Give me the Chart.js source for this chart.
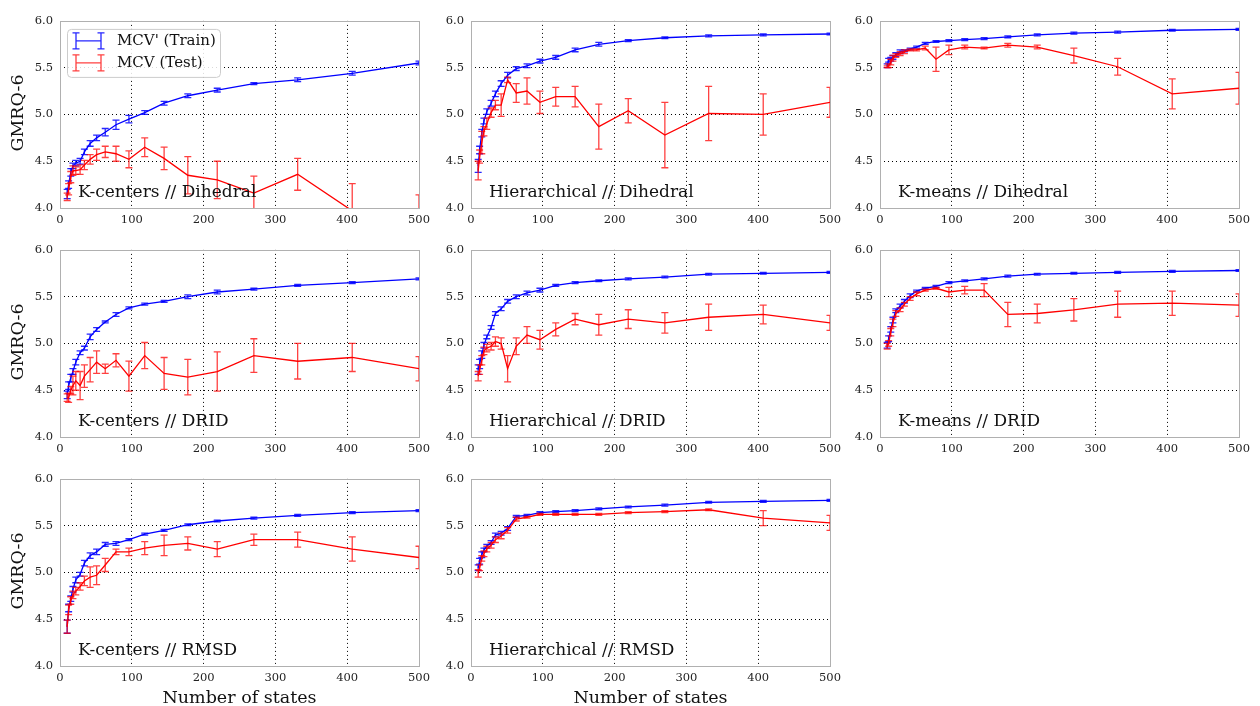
<!DOCTYPE html>
<html>
<head>
<meta charset="utf-8">
<script src="https://cdn.jsdelivr.net/npm/chart.js@4.4.0/dist/chart.umd.min.js"></script>
<style>
  body{margin:0;background:#fff;width:1260px;height:706px;position:relative;overflow:hidden;font-family:"DejaVu Serif",serif;color:#111}
  .panel{position:absolute}
  .ylab{position:absolute;font-size:17.5px;white-space:nowrap;transform:translate(-50%,-50%) rotate(-90deg)}
  .xlab{position:absolute;font-size:17.5px;white-space:nowrap;transform:translate(-50%,-50%)}
</style>
</head>
<body>
<script>
// number of states on the x axis (same for every panel)
const nStates = [10, 12, 15, 18, 22, 28, 34, 42, 51, 63, 78, 96, 118, 145, 178, 219, 270, 331, 407, 500]

const panelTitles = [
  'K-centers // Dihedral', 'Hierarchical // Dihedral', 'K-means // Dihedral',
  'K-centers // DRID', 'Hierarchical // DRID', 'K-means // DRID',
  'K-centers // RMSD', 'Hierarchical // RMSD'
]
const xTicks = [0, 100, 200, 300, 400, 500]
const yTicks = [4.0, 4.5, 5.0, 5.5, 6.0]

// K-centers // Dihedral
const kcDihTrain    = [4.15, 4.25, 4.38, 4.45, 4.48, 4.50, 4.60, 4.69, 4.75, 4.81, 4.89, 4.95, 5.02, 5.12, 5.20, 5.26, 5.33, 5.37, 5.44, 5.55]
const kcDihTrainErr = [0.05, 0.04, 0.04, 0.03, 0.03, 0.03, 0.03, 0.03, 0.03, 0.04, 0.05, 0.04, 0.02, 0.02, 0.02, 0.02, 0.01, 0.02, 0.02, 0.02]
const kcDihTest     = [4.12, 4.20, 4.33, 4.40, 4.40, 4.41, 4.46, 4.52, 4.57, 4.60, 4.58, 4.52, 4.65, 4.53, 4.35, 4.30, 4.16, 4.36, 3.97, 3.86]
const kcDihTestErr  = [0.04, 0.06, 0.06, 0.05, 0.04, 0.05, 0.05, 0.05, 0.06, 0.06, 0.08, 0.09, 0.10, 0.12, 0.20, 0.20, 0.18, 0.17, 0.29, 0.28]

// Hierarchical // Dihedral
const hiDihTrain    = [4.45, 4.62, 4.80, 4.93, 5.03, 5.12, 5.22, 5.33, 5.42, 5.49, 5.52, 5.57, 5.61, 5.69, 5.75, 5.79, 5.82, 5.84, 5.85, 5.86]
const hiDihTrainErr = [0.07, 0.04, 0.04, 0.03, 0.03, 0.03, 0.03, 0.03, 0.03, 0.02, 0.02, 0.02, 0.02, 0.02, 0.02, 0.01, 0.01, 0.01, 0.01, 0.01]
const hiDihTest     = [4.40, 4.55, 4.70, 4.82, 4.90, 5.02, 5.10, 5.10, 5.37, 5.23, 5.25, 5.13, 5.19, 5.19, 4.87, 5.04, 4.78, 5.01, 5.00, 5.13]
const hiDihTestErr  = [0.10, 0.07, 0.12, 0.05, 0.06, 0.05, 0.05, 0.12, 0.03, 0.10, 0.14, 0.12, 0.10, 0.11, 0.24, 0.13, 0.35, 0.29, 0.22, 0.16]

// K-means // Dihedral
const kmDihTrain    = [5.52, 5.58, 5.59, 5.61, 5.64, 5.67, 5.68, 5.70, 5.72, 5.76, 5.78, 5.79, 5.80, 5.81, 5.83, 5.85, 5.87, 5.88, 5.90, 5.91]
const kmDihTrainErr = [0.02, 0.02, 0.02, 0.02, 0.02, 0.02, 0.01, 0.01, 0.01, 0.01, 0.01, 0.01, 0.01, 0.01, 0.01, 0.01, 0.01, 0.01, 0.01, 0.01]
const kmDihTest     = [5.51, 5.52, 5.56, 5.60, 5.63, 5.65, 5.67, 5.69, 5.69, 5.71, 5.59, 5.69, 5.72, 5.71, 5.74, 5.72, 5.63, 5.51, 5.22, 5.28]
const kmDihTestErr  = [0.01, 0.02, 0.03, 0.03, 0.02, 0.02, 0.02, 0.01, 0.01, 0.02, 0.13, 0.05, 0.02, 0.01, 0.02, 0.02, 0.08, 0.09, 0.16, 0.17]

// K-centers // DRID
const kcDridTrain    = [4.45, 4.55, 4.63, 4.70, 4.80, 4.90, 4.95, 5.07, 5.15, 5.23, 5.31, 5.38, 5.42, 5.45, 5.50, 5.55, 5.58, 5.62, 5.65, 5.69]
const kcDridTrainErr = [0.04, 0.04, 0.04, 0.03, 0.03, 0.02, 0.02, 0.03, 0.02, 0.01, 0.02, 0.01, 0.01, 0.01, 0.02, 0.02, 0.01, 0.01, 0.01, 0.01]
const kcDridTest     = [4.42, 4.42, 4.50, 4.55, 4.60, 4.55, 4.65, 4.72, 4.80, 4.73, 4.82, 4.65, 4.87, 4.68, 4.64, 4.70, 4.87, 4.81, 4.85, 4.73]
const kcDridTestErr  = [0.04, 0.05, 0.04, 0.10, 0.10, 0.15, 0.12, 0.13, 0.12, 0.05, 0.07, 0.16, 0.14, 0.17, 0.19, 0.21, 0.18, 0.19, 0.15, 0.13]

// Hierarchical // DRID
const hiDridTrain    = [4.72, 4.78, 4.88, 4.98, 5.07, 5.17, 5.32, 5.37, 5.45, 5.50, 5.54, 5.57, 5.62, 5.65, 5.67, 5.69, 5.71, 5.74, 5.75, 5.76]
const hiDridTrainErr = [0.05, 0.05, 0.04, 0.03, 0.02, 0.02, 0.02, 0.02, 0.02, 0.02, 0.02, 0.02, 0.01, 0.01, 0.01, 0.01, 0.01, 0.01, 0.01, 0.01]
const hiDridTest     = [4.65, 4.72, 4.82, 4.92, 4.95, 4.97, 5.02, 5.00, 4.73, 4.97, 5.09, 5.04, 5.15, 5.26, 5.20, 5.26, 5.22, 5.28, 5.31, 5.22]
const hiDridTestErr  = [0.05, 0.05, 0.05, 0.04, 0.04, 0.04, 0.05, 0.06, 0.14, 0.09, 0.09, 0.10, 0.07, 0.06, 0.11, 0.10, 0.11, 0.14, 0.10, 0.08]

// K-means // DRID
const kmDridTrain    = [4.98, 5.05, 5.15, 5.25, 5.35, 5.40, 5.45, 5.51, 5.56, 5.59, 5.61, 5.65, 5.67, 5.69, 5.72, 5.74, 5.75, 5.76, 5.77, 5.78]
const kmDridTrainErr = [0.03, 0.03, 0.03, 0.03, 0.02, 0.02, 0.02, 0.02, 0.01, 0.01, 0.01, 0.01, 0.01, 0.01, 0.01, 0.01, 0.01, 0.01, 0.01, 0.01]
const kmDridTest     = [4.97, 5.00, 5.12, 5.22, 5.32, 5.36, 5.42, 5.48, 5.53, 5.57, 5.59, 5.55, 5.57, 5.57, 5.31, 5.32, 5.36, 5.42, 5.43, 5.41]
const kmDridTestErr  = [0.03, 0.03, 0.04, 0.04, 0.03, 0.02, 0.02, 0.02, 0.02, 0.01, 0.01, 0.05, 0.04, 0.07, 0.13, 0.10, 0.12, 0.14, 0.13, 0.12]

// K-centers // RMSD
const kcRmsdTrain    = [4.42, 4.62, 4.72, 4.82, 4.92, 4.98, 5.10, 5.18, 5.22, 5.30, 5.31, 5.35, 5.41, 5.45, 5.51, 5.55, 5.58, 5.61, 5.64, 5.66]
const kcRmsdTrainErr = [0.07, 0.04, 0.03, 0.03, 0.03, 0.02, 0.03, 0.03, 0.03, 0.02, 0.02, 0.01, 0.01, 0.01, 0.01, 0.01, 0.01, 0.01, 0.01, 0.01]
const kcRmsdTest     = [4.42, 4.60, 4.70, 4.76, 4.80, 4.85, 4.91, 4.95, 4.97, 5.08, 5.22, 5.22, 5.26, 5.29, 5.31, 5.25, 5.35, 5.35, 5.25, 5.16]
const kcRmsdTestErr  = [0.07, 0.05, 0.04, 0.04, 0.04, 0.04, 0.05, 0.11, 0.10, 0.07, 0.03, 0.04, 0.07, 0.11, 0.07, 0.08, 0.06, 0.08, 0.13, 0.12]

// Hierarchical // RMSD
const hiRmsdTrain    = [5.05, 5.12, 5.19, 5.24, 5.28, 5.32, 5.40, 5.42, 5.47, 5.60, 5.61, 5.64, 5.65, 5.66, 5.68, 5.70, 5.72, 5.75, 5.76, 5.77]
const hiRmsdTrainErr = [0.03, 0.03, 0.03, 0.02, 0.02, 0.02, 0.02, 0.02, 0.02, 0.01, 0.01, 0.01, 0.01, 0.01, 0.01, 0.01, 0.01, 0.01, 0.01, 0.01]
const hiRmsdTest     = [4.99, 5.05, 5.15, 5.20, 5.25, 5.29, 5.35, 5.39, 5.45, 5.57, 5.59, 5.62, 5.62, 5.62, 5.62, 5.64, 5.65, 5.67, 5.58, 5.53]
const hiRmsdTestErr  = [0.04, 0.03, 0.03, 0.03, 0.03, 0.03, 0.03, 0.03, 0.03, 0.02, 0.01, 0.01, 0.01, 0.01, 0.01, 0.01, 0.01, 0.01, 0.08, 0.08]

const trainSeries = [kcDihTrain, hiDihTrain, kmDihTrain, kcDridTrain, hiDridTrain, kmDridTrain, kcRmsdTrain, hiRmsdTrain]
const trainErrs   = [kcDihTrainErr, hiDihTrainErr, kmDihTrainErr, kcDridTrainErr, hiDridTrainErr, kmDridTrainErr, kcRmsdTrainErr, hiRmsdTrainErr]
const testSeries  = [kcDihTest, hiDihTest, kmDihTest, kcDridTest, hiDridTest, kmDridTest, kcRmsdTest, hiRmsdTest]
const testErrs    = [kcDihTestErr, hiDihTestErr, kmDihTestErr, kcDridTestErr, hiDridTestErr, kmDridTestErr, kcRmsdTestErr, hiRmsdTestErr]

// layout of the plot areas on the page
const colLeft = [60, 471, 880]
const rowTop = [17, 246, 475]
const plotW = 359, plotH = 191
const padL = 45, padT = 10, padR = 25, padB = 22

Chart.defaults.font.family = '"DejaVu Serif", serif'
Chart.defaults.color = '#222'

const toPoints = (ys, errs) => ys.map((y, i) => ({x: nStates[i], y: y, err: errs[i]}))

// matplotlib style error bars, drawn right after each dataset's line
const errorBars = {
  id: 'errorBars',
  afterDatasetDraw(chart, args) {
    const ds = chart.data.datasets[args.index]
    const {ctx, chartArea: a, scales: {x, y}} = chart
    ctx.save()
    ctx.beginPath()
    ctx.rect(a.left, a.top, a.width, a.height)
    ctx.clip()
    ctx.strokeStyle = ds.errColor
    ctx.lineWidth = 1.3
    ds.data.forEach((p) => {
      const px = x.getPixelForValue(p.x)
      const top = y.getPixelForValue(p.y + p.err)
      const bot = y.getPixelForValue(p.y - p.err)
      ctx.beginPath()
      ctx.moveTo(px, top); ctx.lineTo(px, bot)
      ctx.moveTo(px - 3.5, top); ctx.lineTo(px + 3.5, top)
      ctx.moveTo(px - 3.5, bot); ctx.lineTo(px + 3.5, bot)
      ctx.stroke()
    })
    ctx.restore()
  }
}

function legendMark(ctx, x0, x1, y, color){
  ctx.strokeStyle = color
  ctx.lineWidth = 1.3
  ctx.beginPath()
  ctx.moveTo(x0, y); ctx.lineTo(x1, y)
  ;[x0, x1].forEach((x) => {
    ctx.moveTo(x, y - 8); ctx.lineTo(x, y + 8)
    ctx.moveTo(x - 3.5, y - 8); ctx.lineTo(x + 3.5, y - 8)
    ctx.moveTo(x - 3.5, y + 8); ctx.lineTo(x + 3.5, y + 8)
  })
  ctx.stroke()
}

const frameAndTitle = {
  id: 'frameAndTitle',
  afterDraw(chart, args, opts) {
    const {ctx, chartArea: a} = chart
    ctx.save()
    ctx.strokeStyle = '#b0b0b0'
    ctx.lineWidth = 1
    ctx.strokeRect(Math.round(a.left) + 0.5, Math.round(a.top) + 0.5, Math.round(a.width), Math.round(a.height))

    ctx.fillStyle = '#111'
    ctx.font = '17px "DejaVu Serif"'
    ctx.textBaseline = 'middle'
    ctx.textAlign = 'left'
    ctx.fillText(opts.title, a.left + 18, a.bottom - 15)

    if(opts.legend){
      const lx = a.left + 7, ly = a.top + 8
      ctx.fillStyle = 'rgba(255,255,255,0.85)'
      ctx.strokeStyle = '#cccccc'
      ctx.beginPath()
      ctx.roundRect(lx + 0.5, ly + 0.5, 153, 48, 4)
      ctx.fill()
      ctx.stroke()
      legendMark(ctx, a.left + 16, a.left + 41, a.top + 20, 'rgba(0,0,255,0.85)')
      legendMark(ctx, a.left + 16, a.left + 41, a.top + 42, 'rgba(255,0,0,0.75)')
      ctx.fillStyle = '#111'
      ctx.font = '15px "DejaVu Serif"'
      ctx.fillText("MCV' (Train)", a.left + 57, a.top + 20)
      ctx.fillText('MCV (Test)', a.left + 57, a.top + 42)
    }
    ctx.restore()
  }
}

// only the inner lines of the grid are drawn, the frame is drawn by the plugin
const innerGrid = (c) => (c.index > 0 && c.index < c.scale.ticks.length - 1) ? '#000' : 'rgba(0,0,0,0)'

panelTitles.forEach((title, i) => {
  const col = i % 3, row = Math.floor(i / 3)
  const w = padL + plotW + padR, h = padT + plotH + padB
  const div = document.createElement('div')
  div.className = 'panel'
  div.style.left = (colLeft[col] - padL) + 'px'
  div.style.top = (rowTop[row] - padT) + 'px'
  div.style.width = w + 'px'
  div.style.height = h + 'px'
  const canvas = document.createElement('canvas')
  canvas.width = w
  canvas.height = h
  div.appendChild(canvas)
  document.body.appendChild(div)

  new Chart(canvas, {
    type: 'line',
    plugins: [errorBars, frameAndTitle],
    data: {
      datasets: [{
        label: 'MCV (Test)',
        data: toPoints(testSeries[i], testErrs[i]),
        borderColor: '#ff0000',
        errColor: 'rgba(255,0,0,0.75)',
        borderWidth: 1.3,
        pointRadius: 0,
        order: 0,
      }, {
        label: "MCV' (Train)",
        data: toPoints(trainSeries[i], trainErrs[i]),
        borderColor: '#0000ff',
        errColor: 'rgba(0,0,255,0.85)',
        borderWidth: 1.3,
        pointRadius: 0,
        order: 1,
      }]
    },
    options: {
      responsive: false,
      animation: false,
      devicePixelRatio: 1,
      layout: {padding: {left: 0, top: padT, right: padR, bottom: 0}},
      scales: {
        x: {
          type: 'linear',
          min: 0,
          max: 500,
          afterFit: (scale) => { scale.height = padB },
          afterBuildTicks: (scale) => { scale.ticks = xTicks.map((v) => ({value: v})) },
          border: {display: false, dash: [1, 3]},
          grid: {color: innerGrid, lineWidth: 1, drawTicks: false},
          ticks: {padding: 5, font: {size: 11.5}, maxRotation: 0, autoSkip: false},
        },
        y: {
          type: 'linear',
          min: 4,
          max: 6,
          afterFit: (scale) => { scale.width = padL },
          afterBuildTicks: (scale) => { scale.ticks = yTicks.map((v) => ({value: v})) },
          border: {display: false, dash: [1, 3]},
          grid: {color: innerGrid, lineWidth: 1, drawTicks: false},
          ticks: {padding: 7, font: {size: 11.5}, callback: (v) => Number(v).toFixed(1)},
        }
      },
      plugins: {
        legend: {display: false},
        tooltip: {enabled: false},
        frameAndTitle: {title: title, legend: i === 0},
      }
    }
  })
})

// axis labels as page text
rowTop.forEach((t) => {
  const d = document.createElement('div')
  d.className = 'ylab'
  d.style.left = '17px'
  d.style.top = (t + plotH / 2) + 'px'
  d.textContent = 'GMRQ-6'
  document.body.appendChild(d)
})
;[0, 1].forEach((c) => {
  const d = document.createElement('div')
  d.className = 'xlab'
  d.style.left = (colLeft[c] + plotW / 2) + 'px'
  d.style.top = '697px'
  d.textContent = 'Number of states'
  document.body.appendChild(d)
})
</script>
</body>
</html>
